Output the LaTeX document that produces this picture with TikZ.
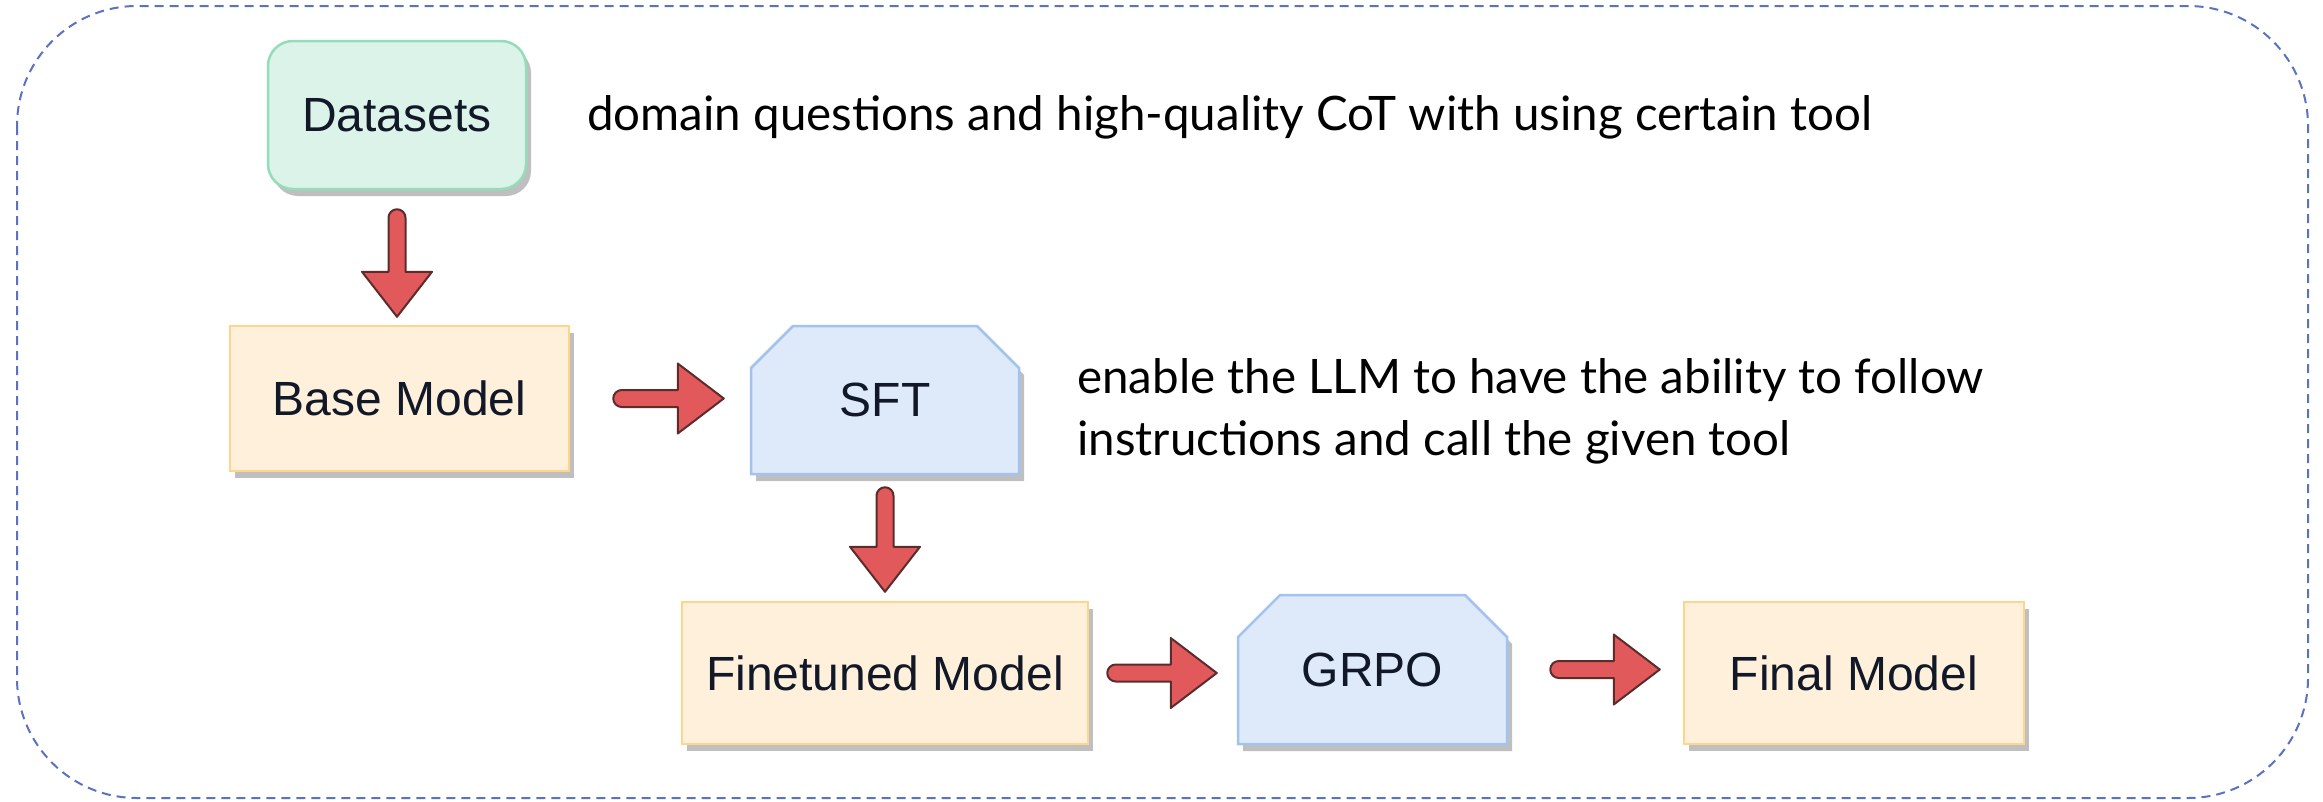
\documentclass[tikz,border=0pt]{standalone}
\usepackage{fontspec}
\setmainfont{Liberation Sans}
\newfontfamily\descfont{Lato}
\usetikzlibrary{calc,shadows,shapes.misc}
\definecolor{dashblue}{HTML}{5B72C0}
\definecolor{greenfill}{HTML}{DCF3E9}
\definecolor{greenline}{HTML}{93DDBB}
\definecolor{orangefill}{HTML}{FFF0DC}
\definecolor{orangeline}{HTML}{FFD58C}
\definecolor{bluefill}{HTML}{DEE9F9}
\definecolor{blueline}{HTML}{A3C2EE}
\definecolor{boxtext}{HTML}{111827}
\definecolor{arrowred}{HTML}{E2595C}
\definecolor{arrowline}{HTML}{5A2C2C}
\tikzset{
  boxshadow/.style={drop shadow={shadow xshift=5pt, shadow yshift=-7pt, fill=black, opacity=0.25}},
  basebox/.style={line width=2.5pt, font=\fontsize{48}{52}\selectfont, text=boxtext, boxshadow, inner sep=0pt},
  greenbox/.style={basebox, rectangle, rounded corners=25pt, fill=greenfill, draw=greenline},
  orangebox/.style={basebox, rectangle, fill=orangefill, draw=orangeline},
  bluebox/.style={basebox, chamfered rectangle, chamfered rectangle corners={north west,north east}, chamfered rectangle xsep=25pt, chamfered rectangle ysep=25pt, fill=bluefill, draw=blueline},
  fatarrow/.style={fill=arrowred, draw=arrowline, line width=2pt, line join=round},
  desc/.style={font=\descfont\fontsize{47.5}{62}\selectfont, text=black, inner sep=0pt, align=left}
}
\newcommand\arrD[4]{\draw[fatarrow] let \p1=($(#1.south)+(0,#2)$), \p2=($(#3.north)-(0,#4)$) in
 (\x1-8.5pt,\y1-8.5pt) -- (\x1-8.5pt,\y2+45pt) -- (\x1-35pt,\y2+45pt) -- (\x1,\y2) -- (\x1+35pt,\y2+45pt) -- (\x1+8.5pt,\y2+45pt) -- (\x1+8.5pt,\y1-8.5pt) arc[start angle=0,end angle=180,radius=8.5pt] -- cycle;}
\newcommand\arrR[4]{\draw[fatarrow] let \p1=($(#1.east)+(#2,0)$), \p2=($(#3.west)-(#4,0)$) in
 (\x1+8.5pt,\y1+8.5pt) -- (\x2-46pt,\y1+8.5pt) -- (\x2-46pt,\y1+35pt) -- (\x2,\y1) -- (\x2-46pt,\y1-35pt) -- (\x2-46pt,\y1-8.5pt) -- (\x1+8.5pt,\y1-8.5pt) arc[start angle=270,end angle=90,radius=8.5pt] -- cycle;}
\begin{document}
\begin{tikzpicture}[x=1pt,y=-1pt]
\useasboundingbox (0,0) rectangle (2323,801);
\draw[dashblue, line width=2pt, dash pattern=on 9pt off 6pt, rounded corners=120pt] (17,6) rectangle (2308,798);

\node[greenbox, minimum width=258pt, minimum height=148pt] (data) at (397,115) {Datasets};
\node[orangebox, minimum width=339pt, minimum height=145pt] (base) at (399.5,398.5) {Base Model};
\node[bluebox, minimum width=268pt, minimum height=148pt] (sft) at (885,400) {SFT};
\node[orangebox, minimum width=406pt, minimum height=142pt] (fine) at (885,673) {Finetuned Model};
\node[bluebox, minimum width=269pt, minimum height=149pt] (grpo) at (1372.5,669.5) {GRPO};
\node[orangebox, minimum width=340pt, minimum height=142pt] (final) at (1854,673) {Final Model};

\node[desc, anchor=base west] (d1) at (587,130) {domain questions and high-quality CoT with using certain tool};
\node[desc, anchor=base west] (d2) at (1077,455) {enable the LLM to have the ability to follow\\instructions and call the given tool};

\arrD{data}{19}{base}{8}
\arrR{base}{43}{sft}{26}
\arrD{sft}{12}{fine}{9}
\arrR{fine}{18}{grpo}{20}
\arrR{grpo}{42}{final}{23}
\end{tikzpicture}
\end{document}
